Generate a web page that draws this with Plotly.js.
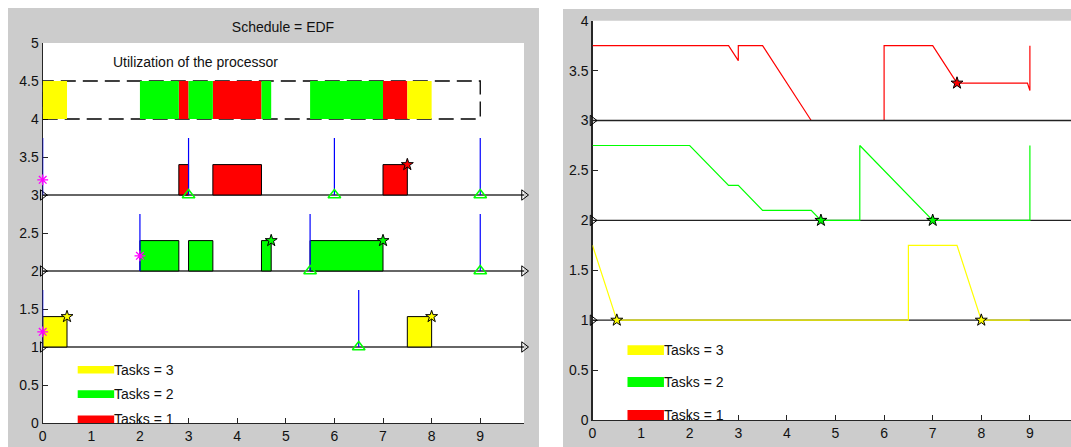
<!DOCTYPE html>
<html><head><meta charset="utf-8">
<script src="https://cdn.plot.ly/plotly-3.0.1.min.js"></script>
<style>html,body{margin:0;padding:0;background:#fff;overflow:hidden}#chart{width:1071px;height:447px}</style>
</head><body><div id="chart"></div>
<script>
// ---------------- data ----------------
const taskIds    = [1, 2, 3];
const taskLabels = ['Tasks = 1', 'Tasks = 2', 'Tasks = 3'];
const taskRows   = [3, 2, 1];

// executed segments (schedule)
const segStart = [0, 2.0, 2.8, 3.0, 3.5, 4.5, 5.5, 7.0, 7.5];
const segEnd   = [0.5, 2.8, 3.0, 3.5, 4.5, 4.7, 7.0, 7.5, 8.0];
const segTask  = [3, 2, 1, 2, 1, 2, 2, 1, 3];

// job releases, deadlines, first arrival, completions
const releases   = [[0, 3, 6, 9], [2, 5.5, 9], [0, 6.5]];
const deadlines  = [[3, 6, 9], [5.5, 9], [6.5]];
const firstArr   = [0, 2, 0];
const finishes   = [[7.5], [4.7, 7.0], [0.5, 8.0]];

const barHeight = 0.4, releaseHeight = 0.75, arrivalMark = 0.2;
const utilBase = 4, utilTop = 4.5, utilEnd = 9;
const axisEnd = 9.9;

// remaining budget curves (right chart)
const budget1X = [0, 2.8, 3.0, 3.0, 3.5, 4.5, 6.0, 6.0, 7.0, 7.5, 8.95, 9.0, 9.0];
const budget1Y = [3.75, 3.75, 3.6, 3.75, 3.75, 3.0, 3.0, 3.75, 3.75, 3.375, 3.375, 3.3, 3.75];
const budget2X = [0, 2.0, 2.8, 3.0, 3.5, 4.5, 4.7, 5.5, 5.5, 7.0, 9.0, 9.0];
const budget2Y = [2.75, 2.75, 2.35, 2.35, 2.1, 2.1, 2.0, 2.0, 2.75, 2.0, 2.0, 2.75];
const budget3X = [0, 0.5, 6.5, 6.5, 7.5, 8.0, 9.0];
const budget3Y = [1.75, 1.0, 1.0, 1.75, 1.75, 1.0, 1.0];
const budgetAtFinish = [[3.375], [2.0, 2.0], [1.0, 1.0]];

// legend patches (data coordinates)
const keyX0 = 0.72, keyX1 = 1.47, keyH = 0.1;
const keyY = [0, 0.33, 0.65];

// ticks
const xTickVals  = [0, 1, 2, 3, 4, 5, 6, 7, 8, 9];
const xTickText  = ['0', '1', '2', '3', '4', '5', '6', '7', '8', '9'];
const yTickValsL = [0, 0.5, 1, 1.5, 2, 2.5, 3, 3.5, 4, 4.5, 5];
const yTickTextL = ['0', '0.5', '1', '1.5', '2', '2.5', '3', '3.5', '4', '4.5', '5'];
const yTickValsR = [0, 0.5, 1, 1.5, 2, 2.5, 3, 3.5, 4];
const yTickTextR = ['0', '0.5', '1', '1.5', '2', '2.5', '3', '3.5', '4'];

const titleLeft = 'Schedule = EDF';
const utilText = 'Utilization of the processor';

// ---------------- styles ----------------
const colors = {1: '#ff0000', 2: '#00ff00', 3: '#ffff00'};
const FONT = 'Liberation Sans, Arial, Helvetica, sans-serif';
const W = 1071, H = 447;

function rects(x0, x1, y0, y1) {
  const x = [], y = [];
  for (let i = 0; i < x0.length; i++) {
    x.push(x0[i], x1[i], x1[i], x0[i], x0[i], null);
    y.push(y0[i], y0[i], y1[i], y1[i], y0[i], null);
  }
  return {x, y};
}

const traces = [];
const L = {xaxis: 'x', yaxis: 'y'}, R = {xaxis: 'x2', yaxis: 'y2'};

// ---- left chart ----
// dashed frame of utilization row
traces.push(Object.assign({type: 'scatter', mode: 'lines',
  x: [0, utilEnd, utilEnd, 0, 0], y: [utilBase, utilBase, utilTop, utilTop, utilBase],
  line: {color: '#000', width: 1.3, dash: '15px,7px'}, hoverinfo: 'skip'}, L));
// utilization bars
taskIds.forEach(t => {
  const idx = segTask.map((v, i) => v === t ? i : -1).filter(i => i >= 0);
  const r = rects(idx.map(i => segStart[i]), idx.map(i => segEnd[i]),
                  idx.map(() => utilBase), idx.map(() => utilTop));
  traces.push(Object.assign({type: 'scatter', mode: 'lines', x: r.x, y: r.y, fill: 'toself',
    fillcolor: colors[t], line: {width: 0, color: colors[t]}, hoverinfo: 'skip'}, L));
});
// baselines
function baselines(axes, rows, color) {
  const x = [], y = [];
  rows.forEach(b => { x.push(0, axisEnd, null); y.push(b, b, null); });
  return Object.assign({type: 'scatter', mode: 'lines+markers', x, y, cliponaxis: false,
    line: {color: color, width: 1.3},
    marker: {symbol: 'triangle-right-open', size: 9, color: '#000', line: {width: 1, color: '#000'}},
    hoverinfo: 'skip'}, axes);
}
traces.push(baselines(L, taskRows, '#333'));
// task bars
taskIds.forEach((t, k) => {
  const idx = segTask.map((v, i) => v === t ? i : -1).filter(i => i >= 0);
  const r = rects(idx.map(i => segStart[i]), idx.map(i => segEnd[i]),
                  idx.map(() => taskRows[k]), idx.map(() => taskRows[k] + barHeight));
  traces.push(Object.assign({type: 'scatter', mode: 'lines', x: r.x, y: r.y, fill: 'toself',
    fillcolor: colors[t], line: {width: 1, color: '#000'}, hoverinfo: 'skip'}, L));
});
// release lines
{
  const x = [], y = [];
  taskIds.forEach((t, k) => releases[k].forEach(r => { x.push(r, r, null); y.push(taskRows[k], taskRows[k] + releaseHeight, null); }));
  traces.push(Object.assign({type: 'scatter', mode: 'lines', x, y, line: {color: '#0000ff', width: 1.2}, hoverinfo: 'skip'}, L));
}
// deadlines
{
  const x = [], y = [];
  taskIds.forEach((t, k) => deadlines[k].forEach(d => { x.push(d); y.push(taskRows[k]); }));
  traces.push(Object.assign({type: 'scatter', mode: 'markers', x, y, cliponaxis: false,
    marker: {symbol: 'triangle-up-open', size: 11, color: '#00ff00', line: {width: 1.5, color: '#00ff00'}}, hoverinfo: 'skip'}, L));
}
// first arrivals
traces.push(Object.assign({type: 'scatter', mode: 'markers', cliponaxis: false,
  x: firstArr, y: taskRows.map(b => b + arrivalMark),
  marker: {symbol: 'asterisk-open', size: 9, color: '#ff00ff', line: {width: 1.3, color: '#ff00ff'}}, hoverinfo: 'skip'}, L));
// completion stars (left)
taskIds.forEach((t, k) => {
  traces.push(Object.assign({type: 'scatter', mode: 'markers', cliponaxis: false,
    x: finishes[k], y: finishes[k].map(() => taskRows[k] + barHeight),
    marker: {symbol: 'star', size: 9, color: colors[t], line: {width: 1, color: '#000'}}, hoverinfo: 'skip'}, L));
});
// key patches
function keyPatches(axes) {
  taskIds.forEach((t, k) => {
    const r = rects([keyX0], [keyX1], [keyY[k]], [keyY[k] + keyH]);
    traces.push(Object.assign({type: 'scatter', mode: 'lines', x: r.x, y: r.y, fill: 'toself',
      fillcolor: colors[t], line: {width: 0, color: colors[t]}, hoverinfo: 'skip'}, axes));
  });
}
keyPatches(L);

// ---- right chart ----
traces.push(baselines(R, [taskRows[1], taskRows[2]], '#222'));
traces.push(Object.assign({type: 'scatter', mode: 'lines', x: budget3X, y: budget3Y, line: {color: colors[3], width: 1.2}, hoverinfo: 'skip'}, R));
traces.push(Object.assign({type: 'scatter', mode: 'lines', x: budget2X, y: budget2Y, line: {color: colors[2], width: 1.2}, hoverinfo: 'skip'}, R));
traces.push(Object.assign({type: 'scatter', mode: 'lines', x: budget1X, y: budget1Y, line: {color: colors[1], width: 1.2}, hoverinfo: 'skip'}, R));
traces.push(baselines(R, [taskRows[0]], '#222'));
taskIds.forEach((t, k) => {
  traces.push(Object.assign({type: 'scatter', mode: 'markers', cliponaxis: false,
    x: finishes[k], y: budgetAtFinish[k],
    marker: {symbol: 'star', size: 9, color: colors[t], line: {width: 1, color: '#000'}}, hoverinfo: 'skip'}, R));
});
keyPatches(R);

// ---------------- layout ----------------
const px = v => v / W, py = v => 1 - v / H;
const axisCommon = {
  ticks: 'inside', ticklen: 5, tickwidth: 1, tickcolor: '#262626',
  showline: true, linecolor: '#262626', linewidth: 1.2, mirror: false,
  showgrid: false, zeroline: false, layer: 'below traces', fixedrange: true,
  tickfont: {family: FONT, size: 14, color: '#111'}, tickmode: 'array'
};
const annotations = [
  {xref: 'x', yref: 'y', x: 1.4, y: 4.75, text: utilText, showarrow: false, xanchor: 'left', yanchor: 'middle',
   font: {family: FONT, size: 14, color: '#111'}}
];
['x', 'x2'].forEach((xr, j) => {
  taskIds.forEach((t, k) => annotations.push({
    xref: xr, yref: j ? 'y2' : 'y', x: keyX1, y: keyY[k] + keyH / 2, text: taskLabels[k], xshift: -2,
    showarrow: false, xanchor: 'left', yanchor: 'middle', font: {family: FONT, size: 14, color: '#111'}
  }));
});

const layout = {
  width: W, height: H, margin: {l: 0, r: 0, t: 0, b: 0},
  paper_bgcolor: '#ffffff', plot_bgcolor: '#ffffff', showlegend: false,
  title: {text: titleLeft, x: px(283), xanchor: 'center', y: py(27.5), yanchor: 'middle',
          font: {family: FONT, size: 14, color: '#111'}},
  xaxis: Object.assign({}, axisCommon, {domain: [px(42.7), px(524)], range: [0, 9.9], anchor: 'y',
          tickvals: xTickVals, ticktext: xTickText}),
  yaxis: Object.assign({}, axisCommon, {domain: [py(423), py(43)], range: [0, 5], anchor: 'x',
          tickvals: yTickValsL, ticktext: yTickTextL}),
  xaxis2: Object.assign({}, axisCommon, {domain: [px(592.5), 1], range: [0, (W - 592.5) / 48.6], anchor: 'y2',
          tickvals: xTickVals, ticktext: xTickText}),
  yaxis2: Object.assign({}, axisCommon, {domain: [py(420), py(20.7)], range: [0, 4], anchor: 'x2',
          tickvals: yTickValsR, ticktext: yTickTextR}),
  shapes: [
    {type: 'rect', xref: 'paper', yref: 'paper', x0: px(8), x1: px(539), y0: 0, y1: py(8), fillcolor: '#cccccc', line: {width: 0}, layer: 'below'},
    {type: 'rect', xref: 'paper', yref: 'paper', x0: px(563), x1: 1, y0: 0, y1: py(9), fillcolor: '#cccccc', line: {width: 0}, layer: 'below'},
    {type: 'rect', xref: 'paper', yref: 'paper', x0: px(42.7), x1: px(524), y0: py(423), y1: py(43), fillcolor: '#ffffff', line: {width: 0}, layer: 'below'},
    {type: 'rect', xref: 'paper', yref: 'paper', x0: px(592.5), x1: 1, y0: py(420), y1: py(20.7), fillcolor: '#ffffff', line: {width: 0}, layer: 'below'}
  ],
  annotations
};

Plotly.newPlot('chart', traces, layout, {staticPlot: true, displayModeBar: false});
</script>
</body></html>
